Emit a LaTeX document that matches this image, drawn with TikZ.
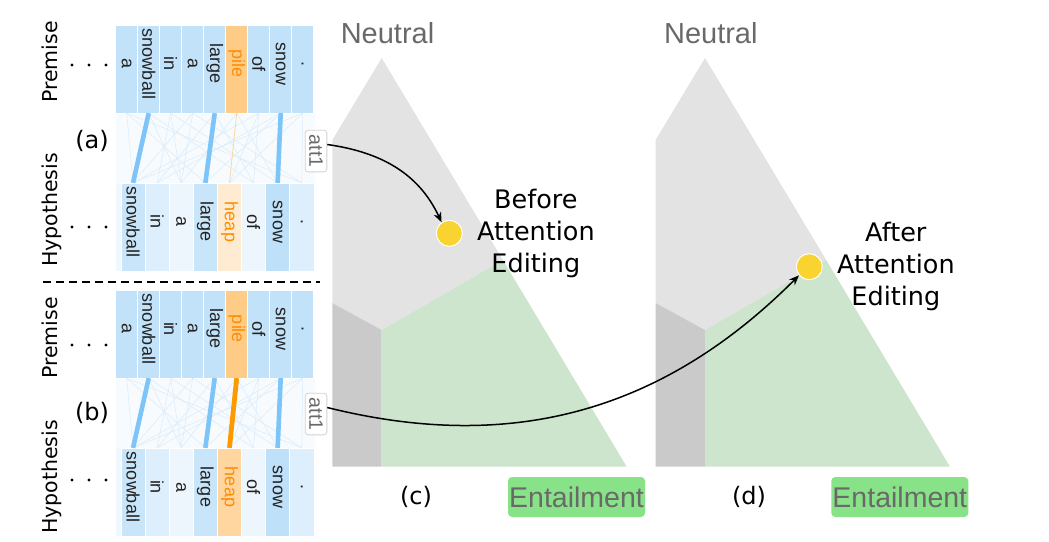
\documentclass[tikz,border=0pt]{standalone}
\usepackage{fontspec}
\setmainfont{DejaVu Sans}
\newfontfamily\arialf{Liberation Sans}
\usepackage{xcolor}
\usetikzlibrary{arrows.meta, positioning}
\definecolor{cellblue}{RGB}{194, 226, 249}
\definecolor{cellmid}{RGB}{200, 229, 250}
\definecolor{cellsnow}{RGB}{190, 224, 249}
\definecolor{celllight}{RGB}{221, 239, 252}
\definecolor{cellpale}{RGB}{238, 246, 253}
\definecolor{hypbg}{RGB}{240, 247, 253}
\definecolor{attbg}{RGB}{247, 251, 254}
\definecolor{pileorange}{RGB}{255, 204, 136}
\definecolor{heaplight}{RGB}{255, 235, 210}
\definecolor{heapmid}{RGB}{255, 214, 160}
\definecolor{wordorange}{RGB}{255, 140, 0}
\definecolor{wordblack}{RGB}{34, 34, 34}
\definecolor{attblue}{RGB}{125, 196, 248}
\definecolor{faintblue}{RGB}{220, 237, 251}
\definecolor{attorange}{RGB}{255, 153, 0}
\definecolor{heapline}{RGB}{255, 214, 160}
\definecolor{neutralgray}{RGB}{227, 227, 227}
\definecolor{contragray}{RGB}{202, 202, 202}
\definecolor{entgreen}{RGB}{205, 228, 205}
\definecolor{entboxgreen}{RGB}{136, 227, 136}
\definecolor{labelgray}{RGB}{105, 105, 105}
\definecolor{dotyellow}{RGB}{249, 211, 48}
\tikzstyle{pcell} = [rectangle, inner sep=0pt, minimum width=22pt, minimum height=87.7pt, draw=white, line width=0.6pt]
\tikzstyle{hcell} = [rectangle, inner sep=0pt, minimum width=24.1pt, minimum height=87.7pt, draw=white, line width=0.6pt]
\tikzstyle{wordtxt} = [yshift=5pt, rotate=-90, inner sep=0pt, font=\arialf\fontsize{18}{18}\selectfont]
\tikzstyle{sidelbl} = [rotate=90, inner sep=0pt, font=\fontsize{20.5}{22}\selectfont]
\tikzstyle{panellbl} = [inner sep=0pt, font=\fontsize{24}{26}\selectfont]
\tikzstyle{strongatt} = [line width=4.6pt, attblue]
\tikzstyle{faintatt} = [line width=0.6pt, faintblue]
\tikzstyle{attbox} = [rectangle, rounded corners=3pt, draw=gray!35, fill=white, line width=0.8pt, minimum width=21.7pt, minimum height=41.7pt, inner sep=0pt]
\tikzstyle{atttxt} = [rotate=-90, inner sep=0pt, text=labelgray, font=\arialf\fontsize{19.5}{20}\selectfont]
\tikzstyle{classlbl} = [inner sep=0pt, text=labelgray, font=\arialf\fontsize{29}{30}\selectfont]
\tikzstyle{entbox} = [rectangle, rounded corners=4pt, fill=entboxgreen, minimum width=137pt, minimum height=40pt, inner sep=0pt, text=labelgray, font=\arialf\fontsize{28.5}{30}\selectfont]
\tikzstyle{yeldot} = [circle, fill=dotyellow, draw=white, line width=1pt, minimum size=26pt, inner sep=0pt]
\tikzstyle{note} = [align=center, inner sep=0pt, font=\fontsize{25.5}{32}\selectfont]
\tikzstyle{arrow} = [-{Stealth[length=10pt, width=8pt]}, line width=1.5pt]

\begin{document}
\begin{tikzpicture}[x=1pt, y=-1pt]
    \useasboundingbox (0,0) rectangle (1049,541);

    % Premise rows and backgrounds
    \foreach \k/\dy in {a/0, b/265} {
        \fill[attbg] (115.7,{112.7+\dy}) rectangle (315,{183+\dy});
        \fill[hypbg] (115.7,{183+\dy}) rectangle (315,{270.7+\dy});
        \foreach \i/\w/\fc/\tc in {1/a/cellblue/wordblack, 2/snowball/cellblue/wordblack, 3/in/cellblue/wordblack, 4/a/cellblue/wordblack, 5/large/cellblue/wordblack, 6/pile/pileorange/wordorange, 7/of/cellblue/wordblack, 8/snow/cellblue/wordblack, 9/./cellblue/wordblack}
            \node[pcell, fill=\fc, label={[wordtxt, text=\tc]center:\w}] (p\k\i) at ({104.7+22*\i}, {69+\dy}) {};
    }

    % Hypothesis (a)
    \foreach \i/\w/\fc/\tc in {1/snowball/cellmid/wordblack, 2/in/celllight/wordblack, 3/a/cellpale/wordblack, 4/large/cellmid/wordblack, 5/heap/heaplight/wordorange, 6/of/cellpale/wordblack, 7/snow/cellsnow/wordblack, 8/./celllight/wordblack}
        \node[hcell, fill=\fc, label={[wordtxt, text=\tc]center:\w}] (ha\i) at ({108.95+24.1*\i}, 227) {};

    % Hypothesis (b)
    \foreach \i/\w/\fc/\tc in {1/snowball/cellmid/wordblack, 2/in/celllight/wordblack, 3/a/cellpale/wordblack, 4/large/cellmid/wordblack, 5/heap/heapmid/wordorange, 6/of/cellpale/wordblack, 7/snow/cellsnow/wordblack, 8/./celllight/wordblack}
        \node[hcell, fill=\fc, label={[wordtxt, text=\tc]center:\w}] (hb\i) at ({108.95+24.1*\i}, 492) {};

    % Attention lines
    \foreach \k in {a,b} {
        \foreach \p/\h in {1/1, 1/4, 2/3, 2/6, 3/2, 3/3, 3/7, 4/1, 4/3, 4/8, 5/2, 5/6, 6/3, 6/7, 7/1, 7/5, 7/6, 8/2, 8/4, 9/5, 9/8, 9/1, 1/8}
            \draw[faintatt] (p\k\p.south) -- (h\k\h.north);
        \foreach \p/\h in {2/1, 5/4, 8/7}
            \draw[strongatt] (p\k\p.south) -- (h\k\h.north);
    }
    \draw[line width=0.8pt, heapline] (pa6.south) -- (ha5.north);
    \draw[line width=4.8pt, attorange] (pb6.south) -- (hb5.north);

    % Side labels
    \node[sidelbl] (prema) at (50,62) {Premise};
    \node[sidelbl] (hypa) at (52,210) {Hypothesis};
    \node[panellbl] (lbla) at (92,141) {(a)};
    \node[sidelbl] (premb) at (50,338) {Premise};
    \node[sidelbl] (hypb) at (52,477) {Hypothesis};
    \node[panellbl] (lblb) at (92,413) {(b)};
    \foreach \y in {65, 227, 345, 480}
        \foreach \x in {72, 89, 106}
            \fill (\x,\y) circle (1.6pt);

    % att1 boxes
    \node[attbox, label={[atttxt]center:att1}] (atta) at (316,151) {};
    \node[attbox, label={[atttxt]center:att1}] (attb) at (316,414) {};

    % Separator
    \draw[line width=2pt, dash pattern=on 8pt off 5pt] (43,282) -- (320,282);

    % Simplex plots
    \foreach \dx/\k in {0/c, 323.3/d} {
        \begin{scope}[xshift=\dx pt]
            \fill[neutralgray] (332.3,140) -- (381.7,58) -- (502.9,260) -- (381.7,330) -- (332.3,303) -- cycle;
            \fill[contragray] (332.3,303) -- (381.7,330) -- (381.7,466.7) -- (332.3,466.7) -- cycle;
            \fill[entgreen] (381.7,330) -- (502.9,260) -- (626.7,466.7) -- (381.7,466.7) -- cycle;
            \node[classlbl] (neut\k) at (387.5,33) {Neutral};
            \node[entbox] (ent\k) at (576.5,497) {Entailment};
        \end{scope}
    }
    \node[panellbl] (lblc) at (416,497) {(c)};
    \node[panellbl] (lbld) at (749,497) {(d)};

    % Predictions
    \node[yeldot] (dotc) at (449.3,233.3) {};
    \node[note, right=14pt of dotc] (befc) {Before\\Attention\\Editing};
    \node[yeldot] (dotd) at (809.3,266.7) {};
    \node[note, right=14pt of dotd] (aftd) {After\\Attention\\Editing};

    % Editing arrows
    \draw[arrow] (atta.30) to[out=-8, in=115] (dotc.125);
    \draw[arrow] (attb.30) to[out=-14, in=-135] (dotd.220);
\end{tikzpicture}
\end{document}
